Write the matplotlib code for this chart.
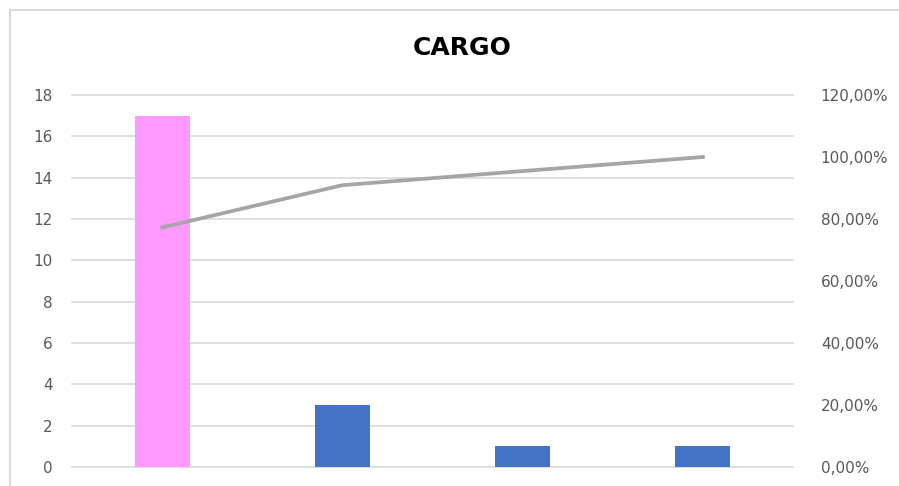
import matplotlib.pyplot as plt
from matplotlib.patches import Rectangle
from matplotlib.ticker import FuncFormatter

categories = ['A', 'B', 'C', 'D']
counts = [17, 3, 1, 1]
bar_colors = ['#ff99ff', '#4472c4', '#4472c4', '#4472c4']
cumulative = [sum(counts[:i + 1]) / sum(counts) for i in range(len(counts))]

fig = plt.figure(figsize=(8.99, 4.86), dpi=100)
fig.patches.append(Rectangle((10 / 899, -0.1), 1.2, (486 - 10) / 486 + 0.1,
                             transform=fig.transFigure, fill=False,
                             edgecolor='#d9d9d9', linewidth=1.5))

ax = fig.add_axes([72 / 899, 19 / 486, 721 / 899, 372 / 486])
x = range(len(categories))
ax.bar(x, counts, width=0.305, color=bar_colors, zorder=3)
ax.set_xlim(-0.5, len(categories) - 0.5)
ax.set_ylim(0, 18)
ax.set_yticks(range(0, 19, 2))
ax.set_xticks([])
ax.grid(axis='y', color='#d9d9d9', linewidth=1.2, zorder=0)
for gl in ax.get_ygridlines():
    gl.set_clip_on(False)
for s in ax.spines.values():
    s.set_visible(False)
ax.tick_params(axis='y', length=0, pad=14, labelsize=11, labelcolor='#595959')

ax2 = ax.twinx()
ax2.plot(x, cumulative, color='#a5a5a5', linewidth=2.7, zorder=4)
ax2.set_ylim(0, 1.2)
ax2.set_yticks([i * 0.2 for i in range(7)])
ax2.yaxis.set_major_formatter(FuncFormatter(lambda v, p: f'{v * 100:.2f}%'.replace('.', ',')))
for s in ax2.spines.values():
    s.set_visible(False)
ax2.tick_params(axis='y', length=0, pad=20, labelsize=11, labelcolor='#595959')

fig.text(462 / 899, 1 - 48 / 486, 'CARGO', ha='center', va='center',
         fontsize=18, fontweight='bold', color='black')

fig.savefig('out.png', dpi=100)
